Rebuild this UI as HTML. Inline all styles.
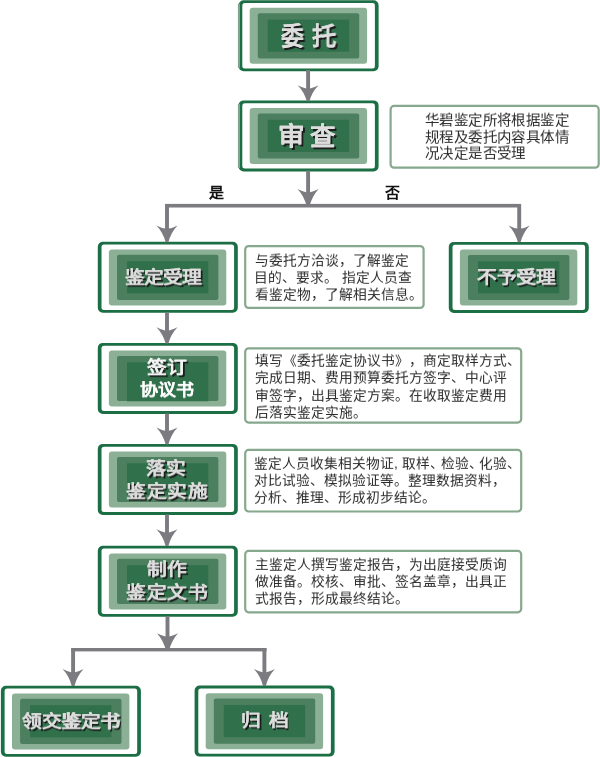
<!DOCTYPE html>
<html lang="zh-CN">
<head>
<meta charset="utf-8">
<style>
html,body{margin:0;padding:0;background:#fff;}
body{width:600px;height:757px;position:relative;overflow:hidden;font-family:"Liberation Sans",sans-serif;}
.t{position:absolute;will-change:transform;transform:scaleY(0.91);transform-origin:0 0;color:#dddddd;font-weight:900;line-height:1;text-shadow:0.4px 0.2px 0 #dddddd,1.8px 1.8px 0 #1c1c1c;white-space:nowrap;}
.t.w{color:#fff;text-shadow:0.45px 0.2px 0 #fff;font-weight:bold;}
.l{position:absolute;will-change:transform;transform:scaleY(0.94);transform-origin:0 60%;text-spacing-trim:space-all;color:#2b2b2b;font-size:13.75px;line-height:1;white-space:nowrap;}
svg{position:absolute;left:0;top:0;}
.lbl{position:absolute;will-change:transform;font-size:15px;font-weight:bold;color:#111;line-height:1;}

</style>
</head>
<body>
<svg width="600" height="757" viewBox="0 0 600 757">
<defs><filter id="bl" x="-5%" y="-5%" width="110%" height="110%"><feGaussianBlur stdDeviation="0.45"/></filter></defs>
<path fill="#1a6e45" fill-rule="evenodd" filter="url(#bl)" d="M243.60,0.20 H373.60 A5,5 0 0 1 378.60,5.20 V66.20 A5,5 0 0 1 373.60,71.20 H243.60 A5,5 0 0 1 238.60,66.20 V5.20 A5,5 0 0 1 243.60,0.20 Z M244.80,3.00 H372.40 A2.5,2.5 0 0 1 374.90,5.50 V65.90 A2.5,2.5 0 0 1 372.40,68.40 H244.80 A2.5,2.5 0 0 1 242.30,65.90 V5.50 A2.5,2.5 0 0 1 244.80,3.00 Z"/>
<rect x="237.90" y="3.70" width="2.1" height="64.00" fill="#7ea58b"/>
<rect x="249.70" y="7.80" width="117.40" height="56.00" rx="3" fill="#8cb096"/>
<rect x="257.80" y="13.20" width="101.40" height="45.20" rx="2" fill="#4b7f5e"/>
<rect x="267.80" y="19.60" width="81.30" height="32.10" rx="0" fill="#30714b"/>
<path fill="#1a6e45" fill-rule="evenodd" filter="url(#bl)" d="M243.60,100.40 H373.60 A5,5 0 0 1 378.60,105.40 V166.40 A5,5 0 0 1 373.60,171.40 H243.60 A5,5 0 0 1 238.60,166.40 V105.40 A5,5 0 0 1 243.60,100.40 Z M244.80,103.20 H372.40 A2.5,2.5 0 0 1 374.90,105.70 V166.10 A2.5,2.5 0 0 1 372.40,168.60 H244.80 A2.5,2.5 0 0 1 242.30,166.10 V105.70 A2.5,2.5 0 0 1 244.80,103.20 Z"/>
<rect x="237.90" y="103.90" width="2.1" height="64.00" fill="#7ea58b"/>
<rect x="249.70" y="108.00" width="117.40" height="56.00" rx="3" fill="#8cb096"/>
<rect x="257.80" y="113.40" width="101.40" height="45.20" rx="2" fill="#4b7f5e"/>
<rect x="267.80" y="119.80" width="81.30" height="32.10" rx="0" fill="#30714b"/>
<path fill="#1a6e45" fill-rule="evenodd" filter="url(#bl)" d="M102.80,241.80 H232.80 A5,5 0 0 1 237.80,246.80 V307.80 A5,5 0 0 1 232.80,312.80 H102.80 A5,5 0 0 1 97.80,307.80 V246.80 A5,5 0 0 1 102.80,241.80 Z M104.00,244.60 H231.60 A2.5,2.5 0 0 1 234.10,247.10 V307.50 A2.5,2.5 0 0 1 231.60,310.00 H104.00 A2.5,2.5 0 0 1 101.50,307.50 V247.10 A2.5,2.5 0 0 1 104.00,244.60 Z"/>
<rect x="108.90" y="249.40" width="117.40" height="56.00" rx="3" fill="#8cb096"/>
<rect x="117.00" y="254.80" width="101.40" height="45.20" rx="2" fill="#4b7f5e"/>
<rect x="127.00" y="261.20" width="81.30" height="32.10" rx="0" fill="#30714b"/>
<path fill="#1a6e45" fill-rule="evenodd" filter="url(#bl)" d="M453.80,241.90 H583.80 A5,5 0 0 1 588.80,246.90 V307.90 A5,5 0 0 1 583.80,312.90 H453.80 A5,5 0 0 1 448.80,307.90 V246.90 A5,5 0 0 1 453.80,241.90 Z M455.00,244.70 H582.60 A2.5,2.5 0 0 1 585.10,247.20 V307.60 A2.5,2.5 0 0 1 582.60,310.10 H455.00 A2.5,2.5 0 0 1 452.50,307.60 V247.20 A2.5,2.5 0 0 1 455.00,244.70 Z"/>
<rect x="459.90" y="249.50" width="117.40" height="56.00" rx="3" fill="#8cb096"/>
<rect x="468.00" y="254.90" width="101.40" height="45.20" rx="2" fill="#4b7f5e"/>
<rect x="478.00" y="261.30" width="81.30" height="32.10" rx="0" fill="#30714b"/>
<path fill="#1a6e45" fill-rule="evenodd" filter="url(#bl)" d="M102.80,342.90 H232.80 A5,5 0 0 1 237.80,347.90 V408.90 A5,5 0 0 1 232.80,413.90 H102.80 A5,5 0 0 1 97.80,408.90 V347.90 A5,5 0 0 1 102.80,342.90 Z M104.00,345.70 H231.60 A2.5,2.5 0 0 1 234.10,348.20 V408.60 A2.5,2.5 0 0 1 231.60,411.10 H104.00 A2.5,2.5 0 0 1 101.50,408.60 V348.20 A2.5,2.5 0 0 1 104.00,345.70 Z"/>
<rect x="108.90" y="350.50" width="117.40" height="56.00" rx="3" fill="#8cb096"/>
<rect x="117.00" y="355.90" width="101.40" height="45.20" rx="2" fill="#4b7f5e"/>
<rect x="127.00" y="362.30" width="81.30" height="39.00" rx="0" fill="#30714b"/>
<path fill="#1a6e45" fill-rule="evenodd" filter="url(#bl)" d="M102.80,443.90 H232.80 A5,5 0 0 1 237.80,448.90 V509.90 A5,5 0 0 1 232.80,514.90 H102.80 A5,5 0 0 1 97.80,509.90 V448.90 A5,5 0 0 1 102.80,443.90 Z M104.00,446.70 H231.60 A2.5,2.5 0 0 1 234.10,449.20 V509.60 A2.5,2.5 0 0 1 231.60,512.10 H104.00 A2.5,2.5 0 0 1 101.50,509.60 V449.20 A2.5,2.5 0 0 1 104.00,446.70 Z"/>
<rect x="108.90" y="451.50" width="117.40" height="56.00" rx="3" fill="#8cb096"/>
<rect x="117.00" y="456.90" width="101.40" height="45.20" rx="2" fill="#4b7f5e"/>
<rect x="127.00" y="463.30" width="81.30" height="32.10" rx="0" fill="#30714b"/>
<path fill="#1a6e45" fill-rule="evenodd" filter="url(#bl)" d="M102.80,545.80 H232.80 A5,5 0 0 1 237.80,550.80 V611.80 A5,5 0 0 1 232.80,616.80 H102.80 A5,5 0 0 1 97.80,611.80 V550.80 A5,5 0 0 1 102.80,545.80 Z M104.00,548.60 H231.60 A2.5,2.5 0 0 1 234.10,551.10 V611.50 A2.5,2.5 0 0 1 231.60,614.00 H104.00 A2.5,2.5 0 0 1 101.50,611.50 V551.10 A2.5,2.5 0 0 1 104.00,548.60 Z"/>
<rect x="108.90" y="553.40" width="117.40" height="56.00" rx="3" fill="#8cb096"/>
<rect x="117.00" y="558.80" width="101.40" height="45.20" rx="2" fill="#4b7f5e"/>
<rect x="127.00" y="565.20" width="81.30" height="32.10" rx="0" fill="#30714b"/>
<path fill="#1a6e45" fill-rule="evenodd" filter="url(#bl)" d="M5.90,685.80 H135.90 A5,5 0 0 1 140.90,690.80 V751.80 A5,5 0 0 1 135.90,756.80 H5.90 A5,5 0 0 1 0.90,751.80 V690.80 A5,5 0 0 1 5.90,685.80 Z M7.10,688.60 H134.70 A2.5,2.5 0 0 1 137.20,691.10 V751.50 A2.5,2.5 0 0 1 134.70,754.00 H7.10 A2.5,2.5 0 0 1 4.60,751.50 V691.10 A2.5,2.5 0 0 1 7.10,688.60 Z"/>
<rect x="12.00" y="693.40" width="117.40" height="56.00" rx="3" fill="#8cb096"/>
<rect x="20.10" y="698.80" width="101.40" height="45.20" rx="2" fill="#4b7f5e"/>
<rect x="30.10" y="705.20" width="81.30" height="32.10" rx="0" fill="#30714b"/>
<path fill="#1a6e45" fill-rule="evenodd" filter="url(#bl)" d="M199.60,685.60 H329.60 A5,5 0 0 1 334.60,690.60 V751.60 A5,5 0 0 1 329.60,756.60 H199.60 A5,5 0 0 1 194.60,751.60 V690.60 A5,5 0 0 1 199.60,685.60 Z M200.80,688.40 H328.40 A2.5,2.5 0 0 1 330.90,690.90 V751.30 A2.5,2.5 0 0 1 328.40,753.80 H200.80 A2.5,2.5 0 0 1 198.30,751.30 V690.90 A2.5,2.5 0 0 1 200.80,688.40 Z"/>
<rect x="205.70" y="693.20" width="117.40" height="56.00" rx="3" fill="#8cb096"/>
<rect x="213.80" y="698.60" width="101.40" height="45.20" rx="2" fill="#4b7f5e"/>
<rect x="223.80" y="705.00" width="81.30" height="32.10" rx="0" fill="#30714b"/>
<rect x="390.60" y="105.90" width="208.10" height="61.80" rx="3.5" fill="#fff" stroke="#86a88c" stroke-width="2.2"/>
<rect x="245.20" y="246.10" width="178.40" height="61.80" rx="3.5" fill="#fff" stroke="#86a88c" stroke-width="2.2"/>
<rect x="245.20" y="348.30" width="276.00" height="74.30" rx="3.5" fill="#fff" stroke="#86a88c" stroke-width="2.2"/>
<rect x="245.20" y="449.90" width="276.00" height="61.60" rx="3.5" fill="#fff" stroke="#86a88c" stroke-width="2.2"/>
<rect x="245.20" y="550.90" width="276.00" height="61.40" rx="3.5" fill="#fff" stroke="#86a88c" stroke-width="2.2"/>
</svg>
<svg width="600" height="757" viewBox="0 0 600 757"><g fill="#7b7b80">
<rect x="306.15" y="70.00" width="3.90" height="20.00"/>
<path d="M306.15,88.50 Q302.85,88.02 297.60,85.30 Q304.25,91.98 306.74,101.20 L309.47,101.20 Q311.95,91.98 318.60,85.30 Q313.35,88.02 310.05,88.50 Z"/>
<rect x="306.15" y="170.50" width="3.90" height="23.20"/>
<path d="M306.15,192.20 Q302.85,191.72 297.60,189.00 Q304.25,196.35 306.74,206.50 L309.47,206.50 Q311.95,196.35 318.60,189.00 Q313.35,191.72 310.05,192.20 Z"/>
<rect x="165.00" y="203.90" width="355.90" height="3.60"/>
<rect x="165.05" y="204.00" width="3.90" height="26.10"/>
<path d="M165.05,228.60 Q161.75,228.12 156.50,225.40 Q163.15,232.46 165.63,242.20 L168.37,242.20 Q170.85,232.46 177.50,225.40 Q172.25,228.12 168.95,228.60 Z"/>
<rect x="517.25" y="204.00" width="3.90" height="26.10"/>
<path d="M517.25,228.60 Q513.95,228.12 508.70,225.40 Q515.35,232.46 517.84,242.20 L520.57,242.20 Q523.05,232.46 529.70,225.40 Q524.45,228.12 521.15,228.60 Z"/>
<rect x="165.05" y="312.50" width="3.90" height="19.40"/>
<path d="M165.05,330.40 Q161.75,329.92 156.50,327.20 Q163.15,334.09 165.63,343.60 L168.37,343.60 Q170.85,334.09 177.50,327.20 Q172.25,329.92 168.95,330.40 Z"/>
<rect x="165.05" y="413.50" width="3.90" height="18.80"/>
<path d="M165.05,430.80 Q161.75,430.32 156.50,427.60 Q163.15,434.74 165.63,444.60 L168.37,444.60 Q170.85,434.74 177.50,427.60 Q172.25,430.32 168.95,430.80 Z"/>
<rect x="165.05" y="514.50" width="3.90" height="19.50"/>
<path d="M165.05,532.50 Q161.75,532.02 156.50,529.30 Q163.15,536.31 165.63,546.00 L168.37,546.00 Q170.85,536.31 177.50,529.30 Q172.25,532.02 168.95,532.50 Z"/>
<rect x="165.55" y="616.00" width="3.90" height="21.90"/>
<path d="M165.55,636.40 Q162.25,635.92 157.00,633.20 Q163.65,640.68 166.13,651.00 L168.87,651.00 Q171.35,640.68 178.00,633.20 Q172.75,635.92 169.45,636.40 Z"/>
<rect x="71.20" y="648.00" width="195.40" height="3.40"/>
<rect x="71.15" y="648.50" width="3.90" height="25.20"/>
<path d="M71.15,672.20 Q67.85,671.72 62.60,669.00 Q69.25,676.14 71.73,686.00 L74.46,686.00 Q76.95,676.14 83.60,669.00 Q78.35,671.72 75.05,672.20 Z"/>
<rect x="262.45" y="648.50" width="3.90" height="25.20"/>
<path d="M262.45,672.20 Q259.15,671.72 253.90,669.00 Q260.55,676.14 263.03,686.00 L265.76,686.00 Q268.25,676.14 274.90,669.00 Q269.65,671.72 266.35,672.20 Z"/>
</g></svg>
<div class="lbl" style="left:208.5px;top:185.0px;">是</div>
<div class="lbl" style="left:384.8px;top:185.0px;">否</div>

<div class="t" style="left:281.2px;top:24.4px;font-size:25.2px;transform:scale(0.9,1);">委</div>
<div class="t" style="left:312.1px;top:24.4px;font-size:25.2px;transform:scale(0.97,1);">托</div>
<div class="t" style="left:278px;top:124.1px;font-size:25.2px;transform:scale(1.06,1);">审</div>
<div class="t" style="left:310.2px;top:124.1px;font-size:25.2px;transform:scale(1.01,1);">查</div>
<div class="t" style="left:125.3px;top:269.3px;font-size:19.75px;letter-spacing:-1.0px;">鉴定受理</div>
<div class="t" style="left:477.0px;top:269.3px;font-size:19.75px;letter-spacing:-0.35px;">不予受理</div>
<div class="t" style="left:147.1px;top:359.2px;font-size:19.75px;color:#f4f4f4;text-shadow:0.4px 0.2px 0 #f4f4f4,1.8px 1.8px 0 #1c1c1c;">签订</div>
<div class="t w" style="left:140px;top:381.8px;font-size:18px;">协议书</div>
<div class="t" style="left:145.8px;top:460px;font-size:19.75px;">落实</div>
<div class="t" style="left:126.0px;top:482.7px;font-size:19.75px;letter-spacing:0.5px;">鉴定实施</div>
<div class="t" style="left:146.7px;top:561.3px;font-size:19.75px;">制作</div>
<div class="t" style="left:126.0px;top:584.1px;font-size:19.75px;letter-spacing:0.5px;">鉴定文书</div>
<div class="t" style="left:22.0px;top:713.0px;font-size:19.75px;letter-spacing:-0.45px;">领交鉴定书</div>
<div class="t" style="left:241.2px;top:711.5px;font-size:19.75px;letter-spacing:7.6px;">归档</div>
<div class="l" style="left:424.9px;top:113px;font-size:14.5px;letter-spacing:0.4px;">华碧鉴定所将根据鉴定</div>
<div class="l" style="left:425.3px;top:130px;font-size:14.5px;letter-spacing:0.4px;">规程及委托内容具体情</div>
<div class="l" style="left:424.7px;top:146.3px;font-size:14.5px;letter-spacing:0.4px;">况决定是否受理</div>
<div class="l" style="left:254.8px;top:253.5px;">与委托方洽谈，了解鉴定</div>
<div class="l" style="left:254.3px;top:271px;">目的、要求。 指定人员查</div>
<div class="l" style="left:254.8px;top:288px;">看鉴定物，了解相关信息。</div>
<div class="l" style="left:255.4px;top:354px;">填写《委托鉴定协议书》，商定取样方式、</div>
<div class="l" style="left:255.4px;top:371.4px;">完成日期、费用预算委托方签字、中心评</div>
<div class="l" style="left:255.4px;top:389.4px;">审签字，出具鉴定方案。在收取鉴定费用</div>
<div class="l" style="left:255.4px;top:406.3px;">后落实鉴定实施。</div>
<div class="l" style="left:253.8px;top:456.7px;">鉴定人员收集相关物证, 取样<span style="letter-spacing:-2.7px">、</span>检验<span style="letter-spacing:-3.85px">、</span>化验、</div>
<div class="l" style="left:253.8px;top:474.3px;">对比试验、模拟验证等。整理数据资料，</div>
<div class="l" style="left:253.8px;top:491.4px;">分析、推理、形成初步结论。</div>
<div class="l" style="left:254.6px;top:557.7px;">主鉴定人撰写鉴定报告，为出庭接受质询</div>
<div class="l" style="left:254.6px;top:574.8px;">做准备。校核、审批、签名盖章，出具正</div>
<div class="l" style="left:254.6px;top:592px;">式报告，形成最终结论。</div>

</body>
</html>
